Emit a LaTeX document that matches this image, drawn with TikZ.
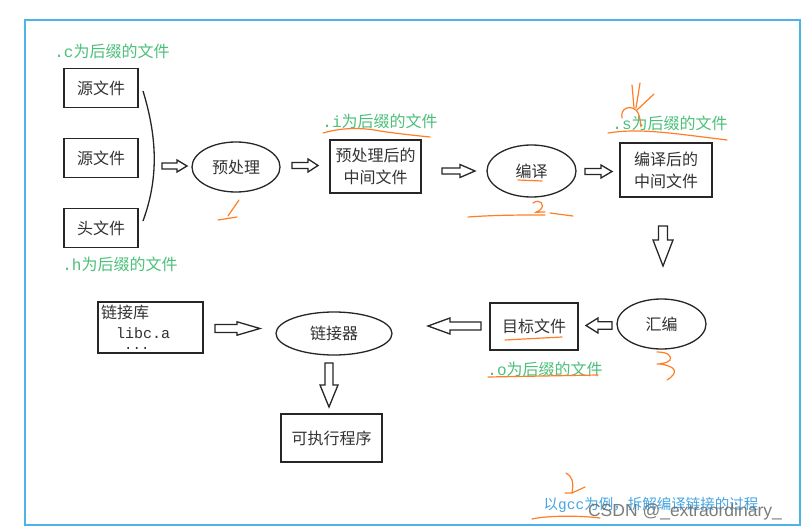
\documentclass[tikz,border=0pt]{standalone}
\usepackage{fontspec}
\setmainfont{Noto Sans CJK SC}
\newfontfamily\monof{Liberation Mono}
\newfontfamily\wmfont{Liberation Sans}
\usetikzlibrary{shapes.geometric}
\definecolor{frameblue}{HTML}{4DB4EA}
\definecolor{lblgreen}{HTML}{4CC07A}
\definecolor{penorange}{HTML}{FF7F27}
\definecolor{noteblue}{HTML}{45A5E0}
% tail coordinate, angle, length, head length, half head width, half shaft width
\newcommand{\blockarrow}[6]{%
  \draw[blockarr, shift={(#1)}, rotate=#2] (0,-#6) -- ({#3-#4},-#6) -- ({#3-#4},-#5) -- (#3,0) -- ({#3-#4},#5) -- ({#3-#4},#6) -- (0,#6) -- cycle;}
\tikzset{
  box/.style={draw=black!85, line width=1.3pt, inner sep=0pt, align=center, text=black!80, font=\fontsize{16}{22}\selectfont},
  ell/.style={ellipse, draw=black!85, line width=1.3pt, inner sep=0pt, text=black!80, font=\fontsize{16}{22}\selectfont},
  plain/.style={inner sep=0pt, text=black!80, font=\fontsize{16}{22}\selectfont},
  lbl/.style={inner sep=0pt, text=lblgreen, font=\fontsize{16}{18}\selectfont},
  blockarr/.style={draw=black!85, line width=1.3pt, fill=white, line join=miter},
  scrib/.style={draw=penorange, line width=1.2pt, line cap=round, line join=round},
}
\begin{document}
\begin{tikzpicture}[x=1pt, y=-1pt]
\useasboundingbox (0,0) rectangle (803,532);
\fill[white] (0,0) rectangle (803,532);
\draw[frameblue, line width=2.5pt] (25,20) rectangle (800,525);

% sources
\node[lbl] (lc) at (112,51) {{\monof .c}为后缀的文件};
\node[box, minimum width=74pt, minimum height=39pt] (src1) at (101,88) {源文件};
\node[box, minimum width=74pt, minimum height=39pt] (src2) at (101,158) {源文件};
\node[box, minimum width=74pt, minimum height=39pt] (hdr) at (101,228) {头文件};
\node[lbl] (lh) at (120,264) {{\monof .h}为后缀的文件};
\draw[line width=1.3pt, black!85] (143,91) .. controls (158,140) and (158,180) .. (143,221);

% preprocess
\coordinate (a1) at (162,166);
\blockarrow{a1}{0}{25}{10}{6}{3}
\node[ell, minimum width=88pt, minimum height=50pt] (pre) at (236,167) {预处理};
\coordinate (a2) at (292,165.5);
\blockarrow{a2}{0}{26}{10}{6.5}{3}
\node[lbl] (li) at (380,121) {{\monof .i}为后缀的文件};
\node[box, minimum width=91pt, minimum height=53pt] (prei) at (375.5,166.5) {预处理后的\\中间文件};

% compile
\coordinate (a3) at (442,171);
\blockarrow{a3}{0}{33}{15}{6.5}{3}
\node[ell, minimum width=89pt, minimum height=52pt] (comp) at (531.5,171) {编译};
\coordinate (a4) at (585,171.5);
\blockarrow{a4}{0}{27}{11}{6.5}{3}
\node[lbl] (ls) at (670,123) {{\monof .s}为后缀的文件};
\node[box, minimum width=92pt, minimum height=54pt] (compo) at (666,170) {编译后的\\中间文件};

% assemble
\coordinate (a5) at (663,226);
\blockarrow{a5}{-90}{40}{26}{10}{4.5}
\node[ell, minimum width=89pt, minimum height=50pt] (asm) at (661.5,324) {汇编};
\coordinate (a6) at (612,325.5);
\blockarrow{a6}{180}{26}{12}{7.5}{3.8}
\node[box, minimum width=88pt, minimum height=47pt] (obj) at (534,326.5) {目标文件};
\node[lbl] (lo) at (545,369) {{\monof .o}为后缀的文件};

% link
\coordinate (a7) at (481,326);
\blockarrow{a7}{180}{53}{22}{8}{4}
\node[ell, minimum width=116pt, minimum height=43pt] (link) at (334,333.5) {链接器};
\node[box, minimum width=105pt, minimum height=51pt] (lib) at (150.5,327.5) {};
\node[plain, anchor=west] (libt) at (101,312) {链接库};
\node[plain, anchor=base west, text depth=0pt, font=\monof\fontsize{15}{16}\selectfont] (libc) at (116,338) {libc.a};
\node[plain, anchor=base west, text height=2pt, text depth=0pt, font=\monof\fontsize{14}{16}\selectfont] (libd) at (124,349) {...};
\coordinate (a8) at (215,328.5);
\blockarrow{a8}{0}{45}{23}{6.7}{4}
\coordinate (a9) at (329,363);
\blockarrow{a9}{-90}{44}{22}{9}{4}
\node[box, minimum width=101pt, minimum height=48pt] (exe) at (331.5,438) {可执行程序};

% bottom note and watermark
\node[inner sep=0pt, text=noteblue, font=\fontsize{14.5}{16}\selectfont] (note) at (651,505) {以{\monof gcc}为例，拆解编译链接的过程};
\node[inner sep=0pt, text=black!60, opacity=0.85, font=\wmfont\fontsize{17.5}{20}\selectfont] (wm) at (685,512) {CSDN @\_extraordinary\_};

% orange hand annotations
\draw[scrib] (239,200) -- (228,216);
\draw[scrib] (218,220) -- (237,217);
\draw[scrib] (323,133) .. controls (340,128) and (360,127) .. (380,131) .. controls (400,134) and (420,136) .. (430,137);
\draw[scrib] (518,180) -- (542,181);
\draw[scrib] (468,217) .. controls (495,215) and (520,215) .. (545,215);
\draw[scrib] (533,203) .. controls (540,198) and (546,205) .. (540,210) .. controls (535,214) and (530,212) .. (545,212);
\draw[scrib] (550,213) -- (573,216);
\draw[scrib] (608,133) .. controls (640,128) and (670,133) .. (727,140);
\draw[scrib] (622,118) .. controls (620,108) and (630,105) .. (636,110) .. controls (640,114) and (640,120) .. (641,127);
\draw[scrib] (634,108) -- (632,85);
\draw[scrib] (636,108) -- (640,83);
\draw[scrib] (637,110) -- (654,94);
\draw[scrib] (505,340) -- (562,337);
\draw[scrib] (488,377) -- (598,375);
\draw[scrib] (657,352) .. controls (668,352) and (672,356) .. (670,360) .. controls (668,363) and (660,364) .. (657,364);
\draw[scrib] (660,364) .. controls (675,366) and (680,372) .. (667,380);
\draw[scrib] (566,473) .. controls (572,476) and (574,482) .. (572,493);
\draw[scrib] (565,493) -- (572,493) -- (585,487);
\draw[scrib] (532,519) .. controls (545,516) and (575,515) .. (600,518);
\end{tikzpicture}
\end{document}
